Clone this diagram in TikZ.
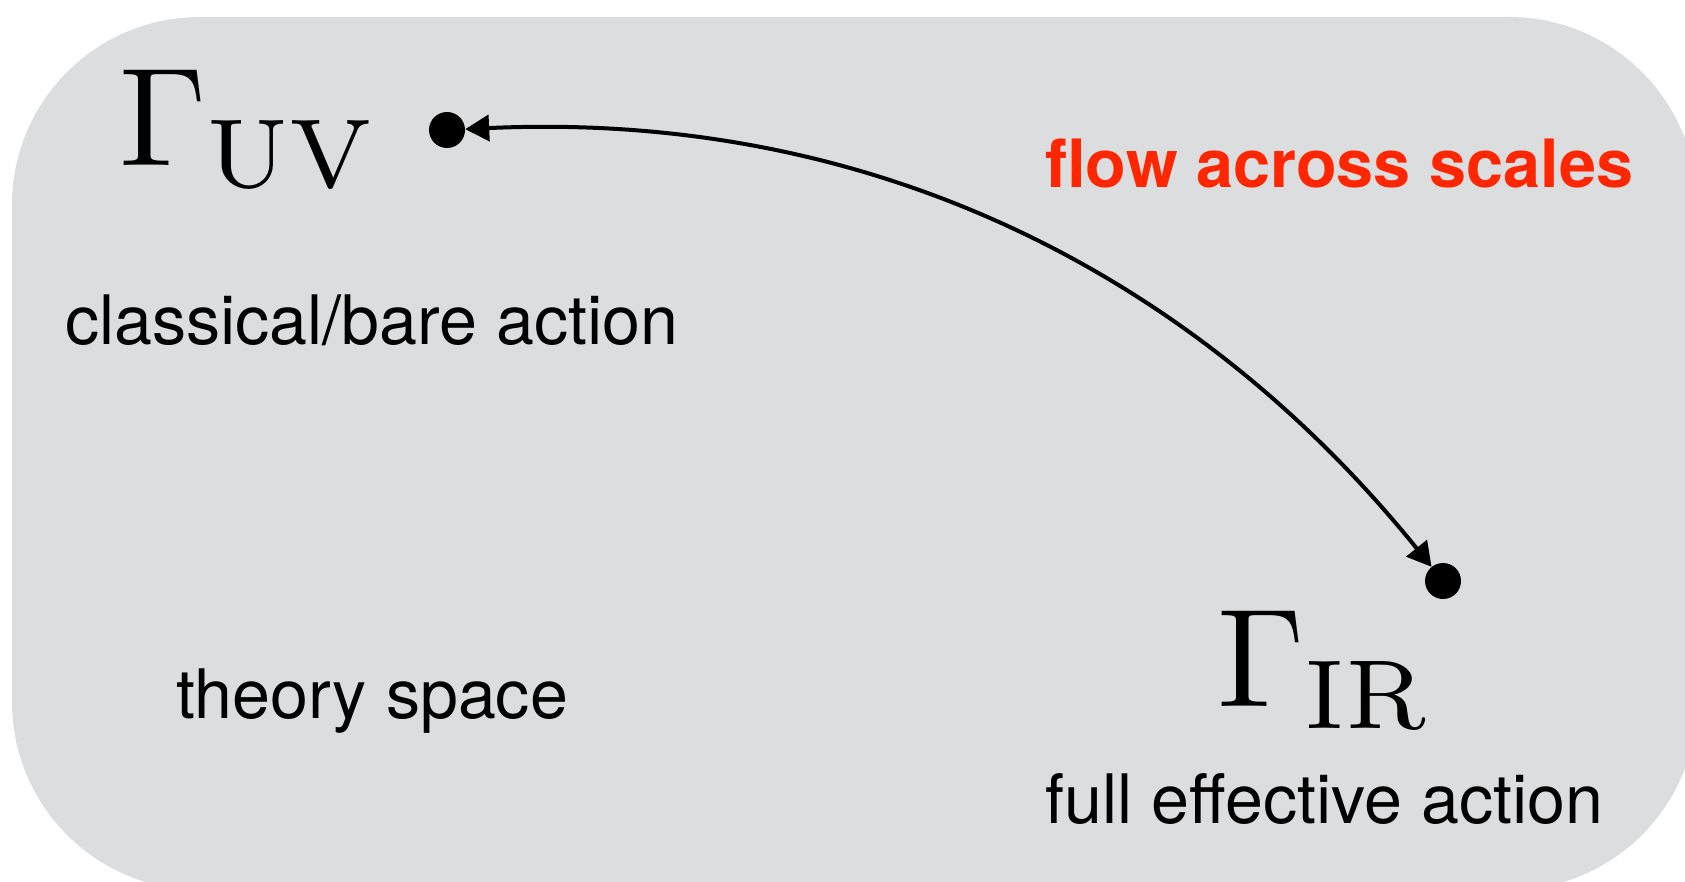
\documentclass[tikz,border=0pt]{standalone}
\usepackage{fontspec}
\newfontfamily\helv{TeX Gyre Heros}
\newfontface\lmten{lmroman10-regular.otf}
\newfontface\lmseven{lmroman7-regular.otf}
\usetikzlibrary{arrows.meta}

\definecolor{panelgray}{RGB}{220,221,223}
\definecolor{flowred}{RGB}{255,38,0}

% Gamma with an upright subscript, set like math in Latin Modern Roman
\newcommand{\gammasub}[1]{{\lmten\fontsize{140}{168}\selectfont Γ}\raisebox{-22pt}{\lmseven\fontsize{98}{118}\selectfont #1}}

\tikzset{
  labeltext/.style={anchor=base west, inner sep=0pt, font=\helv\fontsize{68.2}{80}\selectfont},
  flowtext/.style={anchor=base west, inner sep=0pt, text=flowred, font=\helv\bfseries\fontsize{66.6}{80}\selectfont},
  gammatext/.style={anchor=base west, inner sep=0pt},
  point/.style={circle, fill=black, minimum size=36pt, inner sep=0pt},
  flowarrow/.style={line width=4pt,
    {Triangle[length=24pt,width=26pt]}-{Triangle[length=24pt,width=26pt]}}
}

\begin{document}
\begin{tikzpicture}[x=1pt, y=-1pt]
  % page frame
  \useasboundingbox (0,0) rectangle (1685,882);

  % theory-space panel, running off the right and bottom edges
  \begin{scope}
    \clip (0,0) rectangle (1685,882);
    \fill[panelgray, rounded corners=188pt] (12,17) rectangle (1697,890);
  \end{scope}

  % effective actions at both ends of the flow
  \node[gammatext] (guv) at (119,166) {\gammasub{UV}};
  \node[gammatext] (gir) at (1217,706) {\gammasub{IR}};

  \node[point] (uv) at (447,130) {};
  \node[point] (ir) at (1443,581) {};

  % labels
  \node[labeltext] (classical) at (65,344) {classical/bare action};
  \node[labeltext] (space) at (176,718) {theory space};
  \node[labeltext] (full) at (1045,823) {full effective action};
  \node[flowtext] (flow) at (1045,188) {flow across scales};

  % RG flow connecting the two points
  \draw[flowarrow] (uv) .. controls (880,110) and (1200,280) .. (ir);
\end{tikzpicture}
\end{document}
